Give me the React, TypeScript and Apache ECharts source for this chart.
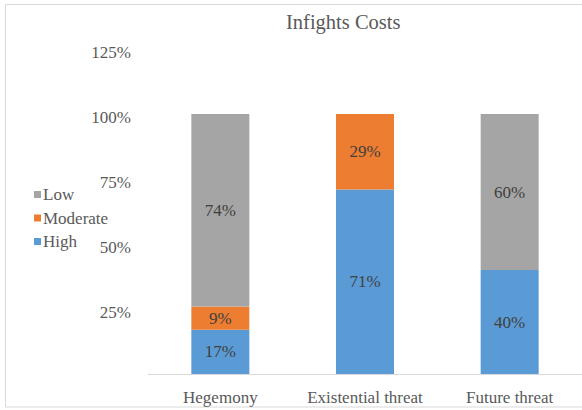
import React, { useEffect, useRef } from "react";
import * as echarts from "echarts";

const categories = ["Hegemony", "Existential threat", "Future threat"];
const highValues = [17, 71, 40];
const moderateValues = [9, 29, 0];
const lowValues = [74, 0, 60];
const yTicks = [0, 25, 50, 75, 100, 125];

const FONT = "'Liberation Serif', 'Times New Roman', serif";
const TEXT = "#595959";

export default function App() {
  const ref = useRef<HTMLDivElement>(null);
  useEffect(() => {
    if (!ref.current) return;
    const chart = echarts.init(ref.current, undefined, { renderer: "svg" });
    const label = {
      show: true,
      position: "inside",
      color: "#404040",
      fontSize: 17,
      fontFamily: FONT,
      formatter: (p: any) => (p.value ? `${p.value}%` : ""),
    };
    const mk = (name: string, data: number[], color: string) => ({
      name,
      type: "bar",
      stack: "total",
      data,
      barWidth: 58,
      itemStyle: { color },
      label,
    });
    chart.setOption({
      animation: false,
      textStyle: { fontFamily: FONT },
      title: {
        text: "Infights Costs",
        left: 281,
        top: 6,
        textStyle: { fontSize: 20.5, fontWeight: "normal", color: TEXT, fontFamily: FONT },
      },
      graphic: [
        {
          type: "rect",
          shape: { x: 5.5, y: 4.5, width: 640, height: 402.5 },
          style: { fill: "none", stroke: "#D9D9D9", lineWidth: 1 },
          silent: true,
          z: -1,
        },
      ],
      legend: {
        orient: "vertical",
        left: 29,
        top: 181,
        itemWidth: 7,
        itemHeight: 7,
        itemGap: 6.5,
        icon: "rect",
        data: ["Low", "Moderate", "High"],
        textStyle: { fontSize: 17, color: TEXT, fontFamily: FONT, padding: [0, 0, 0, -3] },
      },
      grid: { left: 148, width: 438, top: 49, height: 325 },
      xAxis: {
        type: "category",
        data: categories,
        axisLine: { lineStyle: { color: "#D9D9D9", width: 1 } },
        axisTick: { show: false },
        axisLabel: { interval: 0, fontSize: 17, color: TEXT, fontFamily: FONT, margin: 15 },
      },
      yAxis: {
        type: "value",
        min: yTicks[0],
        max: yTicks[yTicks.length - 1],
        interval: 25,
        splitLine: { show: false },
        axisLine: { show: false },
        axisTick: { show: false },
        axisLabel: {
          showMinLabel: false,
          fontSize: 17,
          color: TEXT,
          fontFamily: FONT,
          margin: 17,
          verticalAlign: "top",
          lineHeight: 6,
          formatter: (v: number) => `${v}%`,
        },
      },
      series: [
        mk("High", highValues, "#5B9BD5"),
        mk("Moderate", moderateValues, "#ED7D31"),
        mk("Low", lowValues, "#A5A5A5"),
      ],
    });
    return () => chart.dispose();
  }, []);
  return (
    <div
      ref={ref}
      style={{ position: "fixed", left: 0, top: 0, width: 582, height: 410, background: "#fff" }}
    />
  );
}
